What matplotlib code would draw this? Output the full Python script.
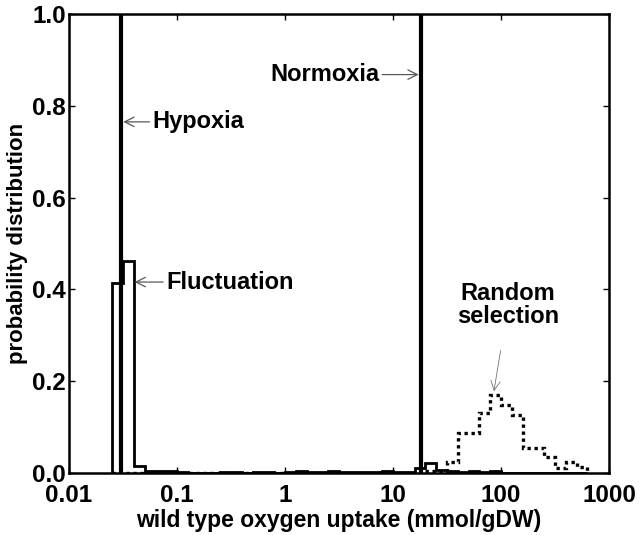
import numpy as np
import matplotlib
matplotlib.use("Agg")
import matplotlib.pyplot as plt

plt.rcParams["font.family"] = ["Liberation Sans", "DejaVu Sans"]
plt.rcParams["font.weight"] = "bold"

# histogram bins: 0.1 decade wide, from 10^-1.6 to 10^2.8
bin_edges = np.logspace(-1.6, 2.8, 45)

# fluctuation distribution (solid)
fluctuation = [0.415, 0.462, 0.016, 0.005, 0.004, 0.004, 0.003, 0.0, 0.001, 0.0,
               0.003, 0.003, 0.001, 0.003, 0.003, 0.001, 0.002, 0.004, 0.003, 0.002,
               0.004, 0.002, 0.003, 0.002, 0.003, 0.004, 0.002, 0.003, 0.010, 0.022,
               0.007, 0.004, 0.002, 0.004, 0.002, 0.004, 0.0, 0.0, 0.0, 0.0,
               0.0, 0.0, 0.0, 0.0]

# random selection distribution (dotted)
random_sel = [0.0, 0.0, 0.0, 0.0, 0.0, 0.0, 0.0, 0.0, 0.0, 0.0,
              0.0, 0.0, 0.0, 0.0, 0.0, 0.0, 0.0, 0.0, 0.0, 0.0,
              0.0, 0.0, 0.0, 0.0, 0.0, 0.0, 0.0, 0.0, 0.002, 0.004,
              0.004, 0.025, 0.087, 0.087, 0.130, 0.170, 0.148, 0.126, 0.054, 0.054,
              0.035, 0.010, 0.024, 0.013]

hypoxia = 0.0303
normoxia = 18.2

xticks = [0.01, 0.1, 1, 10, 100, 1000]
xticklabels = ["0.01", "0.1", "1", "10", "100", "1000"]
yticks = [0.0, 0.2, 0.4, 0.6, 0.8, 1.0]

fig = plt.figure(figsize=(6.4, 5.35), dpi=100)
ax = fig.add_axes([69 / 640, 1 - 473 / 535, 540 / 640, 459 / 535])

ax.stairs(fluctuation, bin_edges, color="k", lw=2.0)
ax.stairs(random_sel, bin_edges, color="k", lw=2.4, linestyle=(0, (1, 1.1)))
ax.axvline(hypoxia, color="k", lw=3.0)
ax.axvline(normoxia, color="k", lw=3.0)

ax.set_xscale("log")
ax.set_xlim(0.01, 1000)
ax.set_ylim(0, 1)
ax.set_xticks(xticks)
ax.set_xticklabels(xticklabels)
ax.set_yticks(yticks)
ax.set_yticklabels([f"{v:.1f}" for v in yticks])
ax.xaxis.set_minor_locator(matplotlib.ticker.NullLocator())
ax.tick_params(direction="in", length=4, width=1, top=True, right=True,
               labelsize=17.5)
ax.tick_params(axis="x", pad=8)
ax.tick_params(axis="y", pad=2)
for s in ax.spines.values():
    s.set_linewidth(1.8)

ax.set_xlabel("wild type oxygen uptake (mmol/gDW)", fontsize=16.5, fontweight="bold", labelpad=1)
ax.set_ylabel("probability distribution", fontsize=16, fontweight="bold", labelpad=3)

arrow = dict(arrowstyle="->", color="0.35", lw=0.9, shrinkA=0, shrinkB=0)
ax.annotate("Hypoxia", xy=(0.0318, 0.765), xytext=(0.059, 0.765), fontsize=17,
            fontweight="bold", va="center", ha="left", arrowprops=arrow)
ax.annotate("Fluctuation", xy=(0.0405, 0.416), xytext=(0.079, 0.416), fontsize=17,
            fontweight="bold", va="center", ha="left", arrowprops=arrow)
ax.annotate("Normoxia", xy=(17.3, 0.868), xytext=(7.5, 0.868), fontsize=17,
            fontweight="bold", va="center", ha="right", arrowprops=arrow)
ax.annotate("Random\nselection", xy=(86, 0.178), xytext=(116, 0.365), fontsize=17,
            fontweight="bold", va="center", ha="center", linespacing=1.0,
            arrowprops=dict(arrowstyle="->", color="0.45", lw=0.6,
                            shrinkA=14, shrinkB=0))

fig.savefig("out.png", dpi=100)
